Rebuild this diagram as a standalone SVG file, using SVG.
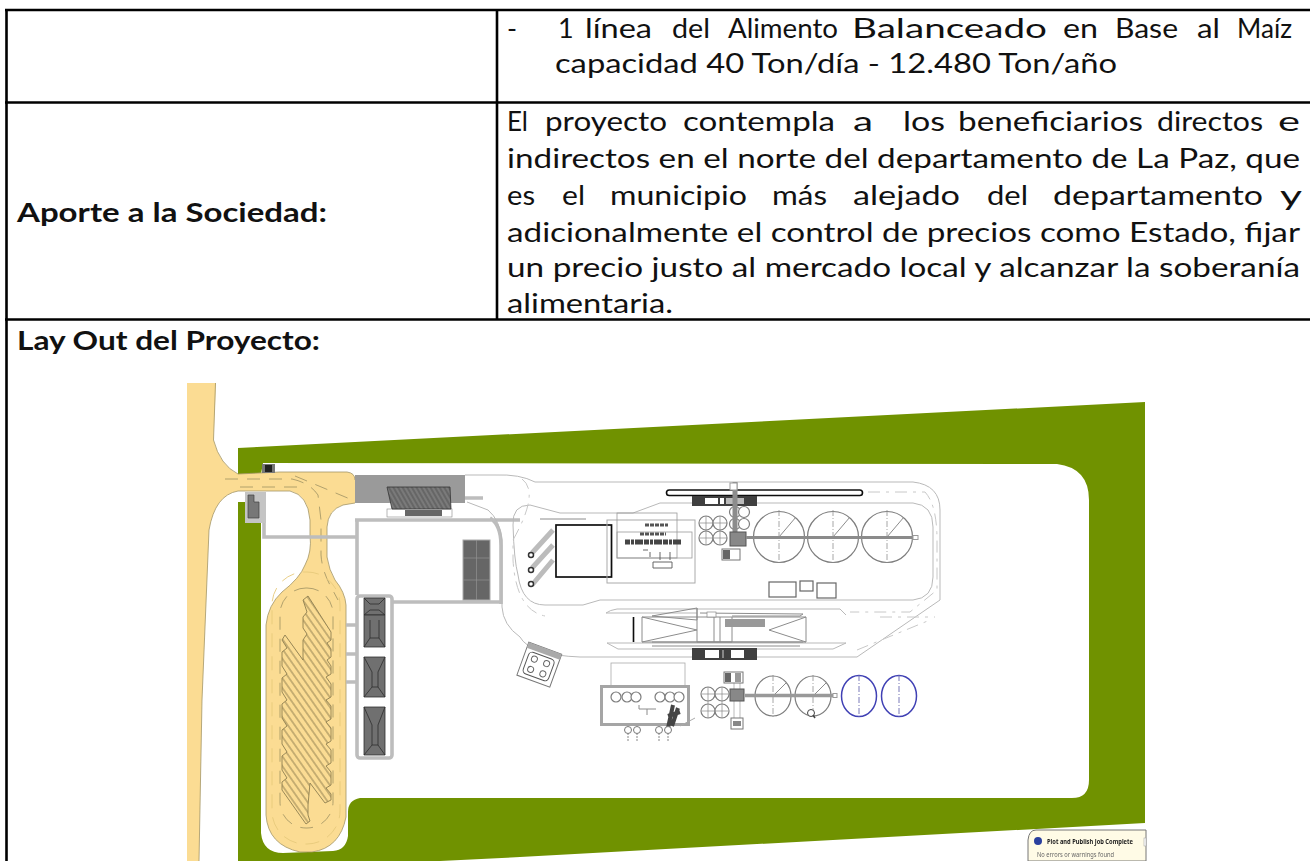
<svg xmlns="http://www.w3.org/2000/svg" width="1310" height="861" viewBox="0 0 1310 861">
<style>
.t{font-family:"Lato","Open Sans","Liberation Sans",sans-serif;font-size:27px;fill:#111}
.b{font-family:"Lato","Open Sans","Liberation Sans",sans-serif;font-size:27px;font-weight:700;fill:#111}
.r{stroke:#000;stroke-width:2.6;fill:none}
.lg{fill:none;stroke:#b9b9b9;stroke-width:1}
.dl{fill:none;stroke:#c8c8c8;stroke-width:1;stroke-dasharray:12 6 3 6}
.w{fill:none;stroke:#bdbdbd;stroke-width:3.6}
.m{fill:none;stroke:#8c8c8c;stroke-width:1}
.c{fill:#fff;stroke:#7d7d7d;stroke-width:1.2}
.s{fill:#fff;stroke:#666;stroke-width:1.2}
.k{fill:none;stroke:#8f8f8f;stroke-width:.8;stroke-dasharray:6 2 1 2}
.bl{fill:#fff;stroke:#3f40b4;stroke-width:1.5}
.ro{fill:none;stroke:#2f2f2f;stroke-width:.8}
.pd{fill:none;stroke:#a89a68;stroke-width:.9;stroke-dasharray:13 9}
</style>
<defs>
<filter id="soft" x="-2%" y="-2%" width="104%" height="104%"><feGaussianBlur stdDeviation="0.35"/></filter>
<pattern id="bars" width="60" height="5.6" patternUnits="userSpaceOnUse" patternTransform="rotate(55)"><rect width="60" height="5.6" fill="#fbdc93"/><path d="M0 1H60" stroke="#8f7f50" stroke-width="1"/></pattern>
<pattern id="hatch" width="4" height="4" patternUnits="userSpaceOnUse" patternTransform="rotate(60)"><rect width="4" height="4" fill="#666"/><path d="M0 1H4" stroke="#8e8e8e" stroke-width="1"/></pattern>
</defs>
<rect width="1310" height="861" fill="#fff"/>

<g id="site" filter="url(#soft)">
<path id="green" fill="#709200" fill-rule="evenodd" d="M238 448L1145 402V823L520 857L440 861H238ZM263 463L1057 464Q1089 468 1089 500V780Q1089 798 1072 798H360Q348 800 348 812V836Q346 850 333 851L283 853Q263 853 261 833V502H238V474H261Z"/>
<path id="road" fill="#fbdc93" d="M187 383H216L213.5 440Q220 465 238 474L280 472H347Q355 473 355 480V503L343 505Q328 510 327 527V557Q329 570 335 580Q345 592 346 605V817Q340 848 312 852H300Q268 845 266 815L266 625Q268 605 282 592Q300 578 305 565Q312 552 310 535V520Q308 495 290 491H238Q215 495 209 530L202 700L199 861H187Z"/>
<path fill="none" stroke="#a39566" stroke-width=".8" d="M215.500 383L213.500 440M209 530L202 700L199 861M213.500 440Q220 465 238 474L280 472H347Q355 473 355 480M355 503L343 505Q328 510 327 527V557Q329 570 335 580Q345 592 346 605V817Q340 848 312 852H300Q268 845 266 815L266 625Q268 605 282 592Q300 578 305 565Q312 552 310 535V520Q308 495 290 491H238Q215 495 209 530"/>
<path class="pd" d="M225 479H292Q310 483 318 495L321 520V555Q322 570 330 585L338 600M240 487H300M295 476L350 499"/>
<rect x="280" y="588" width="53" height="240" rx="26" class="pd"/>
<rect x="272" y="572" width="68" height="272" rx="33" fill="none" stroke="#e6c97c" stroke-width=".9" stroke-dasharray="14 9"/>
<path fill="url(#bars)" stroke="#8f7f50" stroke-width=".9" d="M303 600L308 596L331 632V640L327 643L331 649V657L327 660L331 666V674L326 677L331 684V697L326 700L331 706V719L326 722L331 728V741L326 744L331 750V763L326 766L331 772V785L326 788L331 794V800L325 803L310 783L308 805V815L310 821L306 824L282 790V782L287 778L282 770V756L287 752L282 744V730L287 726L282 718V704L287 700L282 692V678L287 674L282 666V652L287 648L282 640L285 635L303 660V640L307 634L303 628V617L307 612Z"/>

<rect x="262" y="464" width="13" height="9" fill="#777"/><rect x="265" y="465" width="7" height="7" fill="#222"/>
<rect x="245" y="492" width="21" height="31" fill="#c4c4c4"/>
<path d="M248 495H254V502H259V518H248Z" fill="#777" stroke="#444" stroke-width=".7"/>
<path class="w" d="M264 523V537H357M355 520H520M357 520V595M393 602H500M490 518Q501 525 501 545V604M346 625H356M346 654H356M346 682H356M465 498H483"/>
<rect x="357" y="596" width="35" height="162" rx="3" class="w"/>

<rect x="355" y="475" width="110" height="28" fill="#9a9a9a"/>
<rect x="387" y="509" width="65" height="8" fill="#fff" stroke="#888" stroke-width=".6"/>
<rect x="405" y="510" width="37" height="6" fill="#666"/>
<path d="M387 487H450L451 509H392Z" fill="url(#hatch)" stroke="#333" stroke-width=".8"/>
<rect x="463" y="540" width="27" height="60" fill="#666" stroke="#aaa"/><path d="M476.500 540V600M463 558H490M463 580H490" stroke="#999" stroke-width=".6"/>

<path d="M364 598H385V615H364Z" fill="#6f6f6f"/><path class="ro" d="M364 598H385V615H364ZM364 598L370 604H379L385 598M364 615L370 610H379L385 615"/>
<path d="M364 615H385V647H364Z" fill="#6f6f6f"/><path class="ro" d="M364 615H385V647H364ZM370 620V638L364 647M379 620V638L385 647M370 638H379"/>
<path d="M364 657H385V697H364Z" fill="#6f6f6f"/><path class="ro" d="M364 657H385V697H364ZM364 657L372 672V687L364 697M385 657L378 672V687L385 697M372 687H378"/>
<path d="M364 707H385V755H364Z" fill="#6f6f6f"/><path class="ro" d="M364 707H385V755H364ZM364 707L372 725V745L364 755M385 707L378 725V745L385 755M372 745H378"/>

<path class="lg" d="M465 475H495Q520 474 535 482H913Q940 485 940 510V600L857 657H580Q530 655 520 637Q503 625 502 607V540Q500 520 488 510L467 502"/>
<path class="lg" d="M530 505L560 513H633L660 503H913Q933 505 933 527V577Q933 598 913 600H600L583 605H545Q522 605 518 575Q514 560 513 525Q512 505 530 505Z"/>
<path class="dl" d="M522 479Q540 492 513 540V560Q516 610 545 616M868 492H925Q937 505 937 540V590L910 612H850M880 617H935M857 650L930 620"/>

<rect x="666.500" y="490" width="196" height="5.500" rx="2.700" fill="#fff" stroke="#111" stroke-width="1.600"/>
<rect x="692" y="496" width="65" height="10" fill="#3f3f3f"/><rect x="705" y="498" width="13" height="6" fill="#fff"/><rect x="720" y="498" width="4" height="6" fill="#fff"/><rect x="726" y="498" width="18" height="6" fill="#bbb"/>
<path d="M532 553L553 530M532 568L553 545M532 585L553 560" stroke="#bcbcbc" stroke-width="5" fill="none"/>
<g fill="#fff" stroke="#333" stroke-width="1.500"><circle cx="531" cy="555" r="2.500"/><circle cx="531" cy="570" r="2.500"/><circle cx="531" cy="584" r="2.500"/></g>
<rect x="556" y="525" width="55.500" height="52" fill="#fff" stroke="#111" stroke-width="1.700"/>
<path class="m" d="M540 519H586"/>
<rect x="607" y="520" width="88" height="63" fill="none" stroke="#aaa"/>
<rect x="617" y="513" width="60" height="45" fill="none" stroke="#999" stroke-width=".8"/>
<rect x="617" y="532" width="75" height="26" fill="none" stroke="#999" stroke-width=".8"/>
<path d="M625 542H682" stroke="#444" stroke-width="5" stroke-dasharray="5 1 3 1 8 1"/>
<path d="M645 525H668M640 534H666" stroke="#555" stroke-width="3" stroke-dasharray="4 1"/>
<path d="M643 550H648M650 552V557M660 552V560M670 552V560M653 562H672V568H653Z" stroke="#666" fill="none"/>

<g class="c"><circle cx="706" cy="523" r="7"/><circle cx="720" cy="523" r="7"/><circle cx="706" cy="538" r="7"/><circle cx="720" cy="538" r="7"/><circle cx="735" cy="512" r="5.500"/><circle cx="744" cy="512" r="5.500"/><circle cx="735" cy="524" r="5.500"/><circle cx="744" cy="524" r="5.500"/></g>
<path d="M700 523H727M700 538H727M706 516V545M720 516V545" stroke="#888" stroke-width=".7"/>
<path d="M735 482V540" stroke="#8c8c8c" stroke-width="5"/>
<rect x="730" y="483" width="7" height="7" fill="#fff" stroke="#999"/>
<rect x="730" y="532" width="16" height="14" fill="#888" stroke="#555"/>
<rect x="722" y="549" width="18" height="11" fill="#fff" stroke="#777"/><rect x="723" y="550" width="7" height="9" fill="#666"/>

<g class="c"><circle cx="779" cy="537" r="25.500"/><circle cx="833" cy="537" r="25.500"/><circle cx="887" cy="537" r="25.500"/></g>
<path class="m" d="M779 537L796 517M833 537L850 517M887 537L904 517"/>
<path class="k" d="M779 510V564M833 510V564M887 510V564"/>
<path d="M746 537.500H914" stroke="#8b8b8b" stroke-width="3.200"/>
<rect x="913" y="535.500" width="5" height="4" fill="#fff" stroke="#999"/>
<rect x="769" y="582" width="27" height="15" class="s"/>
<rect x="800" y="581" width="13" height="10" class="s"/>
<rect x="817" y="583" width="19" height="15" class="s"/>

<path class="lg" d="M606 613H697M617 609H697M607 643H846L833 649H618ZM846 615L840 609H697M606 613Q610 610 617 609"/>
<path class="m" d="M642 617H806V642H642ZM642 617L697 630L642 642M806 617L769 630L806 642M652 616L697 608V620ZM697 608V642H732V617M714 617V642M720 617V642M732 616H800L803 614L700 613M652 642H803M652 646H800"/>
<path d="M633.500 617V642" stroke="#111" stroke-width="1.600"/>
<rect x="725" y="619" width="40" height="8" fill="#999"/>
<rect x="707" y="612" width="9" height="5" fill="#fff" stroke="#888" stroke-width=".7"/>
<rect x="692" y="648" width="65" height="12" fill="#3f3f3f"/><rect x="705" y="650" width="14" height="8" fill="#fff"/><rect x="722" y="650" width="2" height="8" fill="#888"/><rect x="731" y="650" width="13" height="8" fill="#fff"/>

<g transform="rotate(20 539 664)"><rect x="522" y="647" width="35" height="35" fill="#fff" stroke="#777"/><rect x="522" y="647" width="35" height="6" fill="#aaa"/><rect x="526" y="655" width="27" height="23" rx="4" fill="#fff" stroke="#555"/><circle cx="533" cy="661" r="3" fill="none" stroke="#666"/><circle cx="546" cy="661" r="3" fill="none" stroke="#666"/><circle cx="533" cy="672" r="3" fill="none" stroke="#666"/><circle cx="546" cy="672" r="3" fill="none" stroke="#666"/></g>

<rect x="611" y="663" width="74" height="23" fill="none" stroke="#aaa" stroke-width=".8"/>
<rect x="601.500" y="686.500" width="87" height="38" fill="#fff" stroke="#a5a5a5" stroke-width="3"/>
<g class="c"><circle cx="616" cy="697" r="5"/><circle cx="627" cy="697" r="5"/><circle cx="636" cy="697" r="5"/><circle cx="660" cy="697" r="5"/><circle cx="670" cy="697" r="5"/><circle cx="679" cy="697" r="5"/></g>
<path class="m" d="M639 705V709H656M647 709V715"/>
<path d="M673 705L668 728M678 708L672 726M668 716L680 712" stroke="#444" stroke-width="4" fill="none"/>
<path d="M680 726L695 718" stroke="#aaa"/>
<g fill="#fff" stroke="#777"><circle cx="628" cy="730" r="3.500"/><circle cx="637" cy="730" r="3.500"/><circle cx="659" cy="730" r="3.500"/><circle cx="668" cy="730" r="3.500"/></g>
<path d="M628 733V742M637 733V742M659 733V742M668 733V742" stroke="#888" stroke-dasharray="2 1"/>

<g class="c"><circle cx="708" cy="694" r="7"/><circle cx="722" cy="694" r="7"/><circle cx="708" cy="711" r="7"/><circle cx="722" cy="711" r="7"/></g>
<path d="M702 694H728M708 687V718M722 687V718M702 711H728" stroke="#888" stroke-width=".7"/>
<path d="M734 683V718M740 683V718" stroke="#aaa" stroke-width=".8"/>
<rect x="730" y="689" width="14" height="12" fill="#888" stroke="#555"/>
<rect x="724" y="672" width="19" height="11" fill="#fff" stroke="#777"/><rect x="725" y="673" width="6" height="9" fill="#666"/><rect x="735" y="673" width="6" height="9" fill="#999"/>
<rect x="731" y="718" width="12" height="11" fill="#fff" stroke="#777"/><rect x="733" y="721" width="8" height="5" fill="#888"/>

<g class="c"><ellipse cx="773" cy="696" rx="18" ry="20"/><ellipse cx="813" cy="696" rx="18" ry="20"/></g>
<path class="m" d="M773 696L786 683M813 696L826 683"/>
<path class="k" d="M773 675V717M813 675V717"/>
<path d="M745 695.500H834" stroke="#999" stroke-width="3.600"/>
<rect x="833" y="693.500" width="4" height="4" fill="#fff" stroke="#999"/>
<circle cx="811" cy="713" r="3.500" fill="#fff" stroke="#444"/><path d="M813 715L815 718" stroke="#444" stroke-width="1.500"/>
<g class="bl"><ellipse cx="859" cy="696" rx="17.500" ry="20.500"/><ellipse cx="899" cy="696" rx="17.500" ry="20.500"/></g>
<path d="M859 675V717M899 675V717" stroke="#6a6ab0" stroke-width=".9" stroke-dasharray="6 2 1 2"/>
</g>

<g id="popup" filter="url(#soft)">
<path d="M1028 861V840Q1029 830 1036 830H1146V861Z" fill="#fffbe6" stroke="#777" stroke-width="1"/>
<circle cx="1038" cy="841" r="4" fill="#2b3f9e"/>
<rect x="1144" y="838" width="2" height="8" fill="#fff" stroke="#aaa" stroke-width=".6"/>
<text x="1047" y="844" textLength="86" lengthAdjust="spacingAndGlyphs" font-family="Noto Sans, sans-serif" font-size="7" font-weight="700" fill="#222">Plot and Publish Job Complete</text>
<text x="1037" y="857" textLength="77" lengthAdjust="spacingAndGlyphs" font-family="Noto Sans, sans-serif" font-size="7" fill="#666">No errors or warnings found</text>
</g>

<g id="table">
<path class="r" d="M5 10H1310M5 102.500H1310M5 319.500H1310M6.500 9V861M497 9V319.500"/>
</g>

<g id="labels">
<text class="b" x="17" y="222" textLength="310" lengthAdjust="spacingAndGlyphs">Aporte a la Sociedad:</text>
<text class="b" x="17" y="350" textLength="303" lengthAdjust="spacingAndGlyphs">Lay Out del Proyecto:</text>
</g>

<g id="cell-texts">
<text class="t" y="38" x="507">-</text>
<text class="t" y="38" x="558">1</text>
<text class="t" y="38" x="585" textLength="67" lengthAdjust="spacingAndGlyphs">línea</text>
<text class="t" y="38" x="672" textLength="38" lengthAdjust="spacingAndGlyphs">del</text>
<text class="t" y="38" x="728" textLength="110" lengthAdjust="spacingAndGlyphs">Alimento</text>
<text class="t" y="38" x="852" textLength="195" lengthAdjust="spacingAndGlyphs">Balanceado</text>
<text class="t" y="38" x="1063" textLength="35" lengthAdjust="spacingAndGlyphs">en</text>
<text class="t" y="38" x="1115" textLength="63" lengthAdjust="spacingAndGlyphs">Base</text>
<text class="t" y="38" x="1197" textLength="23" lengthAdjust="spacingAndGlyphs">al</text>
<text class="t" y="38" x="1237" textLength="55" lengthAdjust="spacingAndGlyphs">Maíz</text>
<text class="t" y="73" x="555" textLength="562" lengthAdjust="spacingAndGlyphs">capacidad 40 Ton/día - 12.480 Ton/año</text>
<text class="t" y="131" x="507" textLength="21" lengthAdjust="spacingAndGlyphs">El</text>
<text class="t" y="131" x="545" textLength="122" lengthAdjust="spacingAndGlyphs">proyecto</text>
<text class="t" y="131" x="683" textLength="152" lengthAdjust="spacingAndGlyphs">contempla</text>
<text class="t" y="131" x="853" textLength="20" lengthAdjust="spacingAndGlyphs">a</text>
<text class="t" y="131" x="903" textLength="42" lengthAdjust="spacingAndGlyphs">los</text>
<text class="t" y="131" x="958" textLength="185" lengthAdjust="spacingAndGlyphs">beneficiarios</text>
<text class="t" y="131" x="1157" textLength="106" lengthAdjust="spacingAndGlyphs">directos</text>
<text class="t" y="131" x="1278" textLength="22" lengthAdjust="spacingAndGlyphs">e</text>
<text class="t" y="168" x="507" textLength="793" lengthAdjust="spacingAndGlyphs">indirectos en el norte del departamento de La Paz, que</text>
<text class="t" y="205" x="507" textLength="28" lengthAdjust="spacingAndGlyphs">es</text>
<text class="t" y="205" x="562" textLength="23" lengthAdjust="spacingAndGlyphs">el</text>
<text class="t" y="205" x="610" textLength="137" lengthAdjust="spacingAndGlyphs">municipio</text>
<text class="t" y="205" x="772" textLength="55" lengthAdjust="spacingAndGlyphs">más</text>
<text class="t" y="205" x="853" textLength="107" lengthAdjust="spacingAndGlyphs">alejado</text>
<text class="t" y="205" x="987" textLength="41" lengthAdjust="spacingAndGlyphs">del</text>
<text class="t" y="205" x="1053" textLength="210" lengthAdjust="spacingAndGlyphs">departamento</text>
<text class="t" y="205" x="1280" textLength="22" lengthAdjust="spacingAndGlyphs">y</text>
<text class="t" y="242" x="507" textLength="793" lengthAdjust="spacingAndGlyphs">adicionalmente el control de precios como Estado, fijar</text>
<text class="t" y="277" x="507" textLength="793" lengthAdjust="spacingAndGlyphs">un precio justo al mercado local y alcanzar la soberanía</text>
<text class="t" y="313" x="507" textLength="166" lengthAdjust="spacingAndGlyphs">alimentaria.</text>
</g>
</svg>
